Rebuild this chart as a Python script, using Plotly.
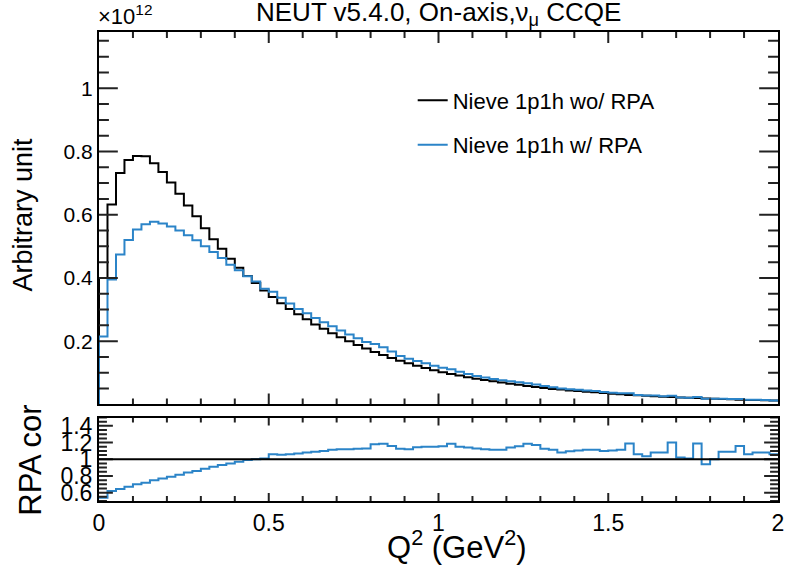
import plotly.graph_objects as go

# ---------------- data ----------------
q2_edges = [round(i * 0.025, 3) for i in range(81)]  # 80 bins, 0 .. 2 GeV^2

# Nieve 1p1h without RPA (units of 1e12)
nieve_wo_rpa = [
    0.400, 0.632, 0.732, 0.773, 0.786, 0.785, 0.763, 0.735, 0.702, 0.666,
    0.629, 0.595, 0.557, 0.522, 0.492, 0.461, 0.432, 0.406, 0.384, 0.360,
    0.340, 0.320, 0.302, 0.285, 0.269, 0.253, 0.239, 0.225, 0.212, 0.200,
    0.188, 0.177, 0.166, 0.156, 0.147, 0.138, 0.130, 0.122, 0.115, 0.108,
    0.102, 0.096, 0.091, 0.086, 0.081, 0.077, 0.073, 0.069, 0.065, 0.062,
    0.058, 0.055, 0.052, 0.049, 0.047, 0.044, 0.042, 0.040, 0.038, 0.036,
    0.034, 0.032, 0.030, 0.029, 0.027, 0.026, 0.024, 0.023, 0.022, 0.021,
    0.020, 0.019, 0.018, 0.017, 0.016, 0.015, 0.014, 0.0135, 0.013, 0.012,
]

# Nieve 1p1h with RPA (units of 1e12)
nieve_w_rpa = [
    0.215, 0.395, 0.474, 0.520, 0.553, 0.570, 0.578, 0.572, 0.563, 0.550,
    0.535, 0.519, 0.500, 0.482, 0.463, 0.442, 0.424, 0.405, 0.389, 0.366,
    0.356, 0.337, 0.319, 0.302, 0.288, 0.273, 0.260, 0.247, 0.234, 0.221,
    0.209, 0.197, 0.191, 0.181, 0.167, 0.153, 0.144, 0.137, 0.130, 0.122,
    0.116, 0.111, 0.103, 0.096, 0.090, 0.085, 0.080, 0.076, 0.073, 0.070,
    0.067, 0.063, 0.058, 0.054, 0.050, 0.048, 0.046, 0.044, 0.042, 0.039,
    0.037, 0.035, 0.035, 0.030, 0.028, 0.028, 0.026, 0.027, 0.022, 0.021,
    0.023, 0.018, 0.018, 0.018, 0.017, 0.017, 0.015, 0.0145, 0.014, 0.0125,
]

# RPA correction (ratio panel)
rpa_cor = [
    0.54, 0.62, 0.645, 0.67, 0.70, 0.72, 0.75, 0.77, 0.79, 0.815,
    0.84, 0.86, 0.885, 0.91, 0.93, 0.95, 0.97, 0.99, 1.00, 1.01,
    1.06, 1.055, 1.06, 1.07, 1.08, 1.09, 1.10, 1.115, 1.12, 1.12,
    1.125, 1.13, 1.18, 1.185, 1.16, 1.125, 1.12, 1.145, 1.15, 1.15,
    1.155, 1.185, 1.15, 1.14, 1.13, 1.12, 1.115, 1.115, 1.14, 1.155,
    1.185, 1.17, 1.125, 1.115, 1.08, 1.095, 1.105, 1.115, 1.115, 1.10,
    1.105, 1.115, 1.19, 1.06, 1.035, 1.08, 1.08, 1.20, 1.02, 1.01,
    1.19, 0.94, 1.00, 1.09, 1.09, 1.16, 1.06, 1.08, 1.08, 1.06,
]

upper_ticks = [0.2, 0.4, 0.6, 0.8, 1.0]
upper_ticktext = ["0.2", "0.4", "0.6", "0.8", "1"]
lower_ticks = [0.6, 0.8, 1.0, 1.2, 1.4]
lower_ticktext = ["0.6", "0.8", "1", "1.2", "1.4"]
x_ticks = [0, 0.5, 1, 1.5, 2]
x_ticktext = ["0", "0.5", "1", "1.5", "2"]

# minor tick positions
x_minor = [round(i * 0.1, 2) for i in range(21) if i % 5 != 0]
upper_minor = [round(i * 0.05, 3) for i in range(24) if i % 4 != 0]
lower_minor = [round(0.5 + i * 0.05, 3) for i in range(21) if i % 4 != 2]

BLACK = "#000000"
BLUE = "#2b84c8"
FONT = "Liberation Sans, Arial, Helvetica, sans-serif"

W, H = 791, 573
MARGIN = dict(l=99, r=7, t=32, b=72)
X_RANGE = [0, 2]
Y_RANGE = [0, 1.178]
Y2_RANGE = [0.5, 1.5]
UP_DOMAIN = [0.206, 1]
LOW_DOMAIN = [0, 0.178]

# pixel -> data scale factors (used for ROOT-style inward tick marks)
PLOT_W = W - MARGIN["l"] - MARGIN["r"]
PLOT_H = H - MARGIN["t"] - MARGIN["b"]
SX = PLOT_W / (X_RANGE[1] - X_RANGE[0])
SY_UP = PLOT_H * (UP_DOMAIN[1] - UP_DOMAIN[0]) / (Y_RANGE[1] - Y_RANGE[0])
SY_LOW = PLOT_H * (LOW_DOMAIN[1] - LOW_DOMAIN[0]) / (Y2_RANGE[1] - Y2_RANGE[0])


def hist_xy(edges, vals, from_zero=True):
    x = ([edges[0]] if from_zero else []) + list(edges)
    y = ([0] if from_zero else []) + list(vals) + [vals[-1]]
    return x, y


def tick_marks(x_major, x_min, y_major, y_min, yr, sy, xlen, xlen_min, ylen, ylen_min):
    xs, ys = [], []
    for vals, L in ((x_major, xlen), (x_min, xlen_min)):
        for v in vals:
            xs += [v, v, None, v, v, None]
            ys += [yr[0], yr[0] + L / sy, None, yr[1], yr[1] - L / sy, None]
    for vals, L in ((y_major, ylen), (y_min, ylen_min)):
        for v in vals:
            xs += [X_RANGE[0], X_RANGE[0] + L / SX, None, X_RANGE[1], X_RANGE[1] - L / SX, None]
            ys += [v, v, None, v, v, None]
    return xs, ys


fig = go.Figure()

xa, ya = hist_xy(q2_edges, nieve_wo_rpa)
fig.add_trace(go.Scatter(x=xa, y=ya, mode="lines", line=dict(color=BLACK, width=2, shape="hv"),
                         name="Nieve 1p1h wo/ RPA", legendgroup="a", xaxis="x", yaxis="y",
                         hoverinfo="skip"))
xb, yb = hist_xy(q2_edges, nieve_w_rpa)
fig.add_trace(go.Scatter(x=xb, y=yb, mode="lines", line=dict(color=BLUE, width=2, shape="hv"),
                         name="Nieve 1p1h w/ RPA", legendgroup="b", xaxis="x", yaxis="y",
                         hoverinfo="skip"))
xr, yr = hist_xy(q2_edges, rpa_cor, from_zero=False)
fig.add_trace(go.Scatter(x=xr, y=yr, mode="lines", line=dict(color=BLUE, width=2, shape="hv"),
                         showlegend=False, xaxis="x2", yaxis="y2", hoverinfo="skip"))

# tick marks (inward, on all four sides of each pad)
tx, ty = tick_marks(x_ticks[1:-1], x_minor, upper_ticks, upper_minor, Y_RANGE, SY_UP, 11, 6, 19, 10)
fig.add_trace(go.Scatter(x=tx, y=ty, mode="lines", line=dict(color="#222222", width=2),
                         showlegend=False, hoverinfo="skip", xaxis="x", yaxis="y",
                         connectgaps=False))
tx2, ty2 = tick_marks(x_ticks[1:-1], x_minor, lower_ticks, lower_minor, Y2_RANGE, SY_LOW, 8, 5, 14, 8)
fig.add_trace(go.Scatter(x=tx2, y=ty2, mode="lines", line=dict(color="#222222", width=2),
                         showlegend=False, hoverinfo="skip", xaxis="x2", yaxis="y2",
                         connectgaps=False))

# reference line at 1 in the ratio panel
fig.add_shape(type="line", xref="x2 domain", yref="y2", x0=0, x1=1, y0=1, y1=1,
              line=dict(color=BLACK, width=2))

axis_style = dict(showline=True, linecolor=BLACK, linewidth=2, mirror=True, ticks="",
                  showgrid=False, zeroline=False)

fig.update_layout(
    width=W, height=H,
    margin=MARGIN,
    paper_bgcolor="white", plot_bgcolor="white",
    font=dict(family=FONT, color=BLACK),
    showlegend=True,
    legend=dict(x=0.462, y=0.899, xanchor="left", yanchor="top", bgcolor="rgba(0,0,0,0)",
                font=dict(size=22, family=FONT), traceorder="grouped", tracegroupgap=13,
                itemwidth=30),
    xaxis=dict(axis_style, domain=[0, 1], range=X_RANGE, anchor="y",
               tickvals=x_ticks, showticklabels=False),
    yaxis=dict(axis_style, domain=UP_DOMAIN, range=Y_RANGE, anchor="x",
               tickvals=upper_ticks, ticktext=upper_ticktext, tickfont=dict(size=21)),
    xaxis2=dict(axis_style, domain=[0, 1], range=X_RANGE, anchor="y2",
                tickvals=x_ticks, ticktext=x_ticktext, tickfont=dict(size=23)),
    yaxis2=dict(axis_style, domain=LOW_DOMAIN, range=Y2_RANGE, anchor="x2",
                tickvals=lower_ticks, ticktext=lower_ticktext, tickfont=dict(size=23)),
)

annotations = [
    dict(text="NEUT v5.4.0, On-axis,ν<sub>μ</sub> CCQE", x=0.5, y=1.0405, xref="paper", yref="paper",
         xanchor="center", yanchor="middle", showarrow=False, font=dict(size=26, family=FONT)),
    dict(text="×10<sup>12</sup>", x=-0.004, y=1.036, xref="paper", yref="paper",
         xanchor="left", yanchor="middle", showarrow=False, font=dict(size=22, family=FONT)),
    dict(text="Arbitrary unit", x=-0.1125, y=0.6098, xref="paper", yref="paper", textangle=-90,
         xanchor="center", yanchor="middle", showarrow=False, font=dict(size=27, family=FONT)),
    dict(text="RPA cor", x=-0.102, y=0.0874, xref="paper", yref="paper", textangle=-90,
         xanchor="center", yanchor="middle", showarrow=False, font=dict(size=31, family=FONT)),
    dict(text="Q<sup>2</sup> (GeV<sup>2</sup>)", x=0.527, y=-0.0938, xref="paper", yref="paper",
         xanchor="center", yanchor="middle", showarrow=False, font=dict(size=31, family=FONT)),
]
fig.update_layout(annotations=annotations)

fig.write_html("out.html")
